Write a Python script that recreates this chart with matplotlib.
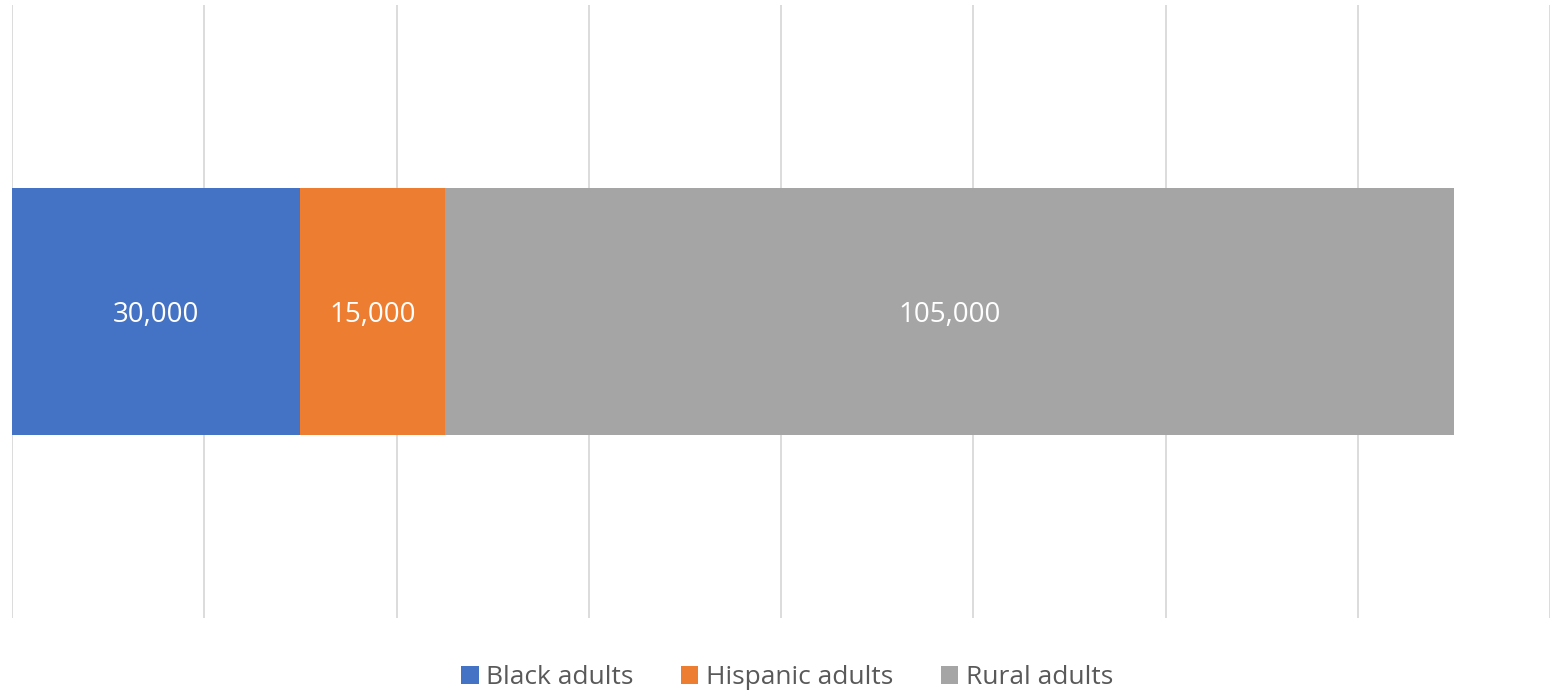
import matplotlib
matplotlib.use("Agg")
import matplotlib.pyplot as plt
from matplotlib.ticker import MultipleLocator

# Dados
series = ["Black adults", "Hispanic adults", "Rural adults"]
valores = [30000, 15000, 105000]
cores = ["#4472C4", "#ED7D31", "#A5A5A5"]

plt.rcParams["font.family"] = ["Open Sans", "DejaVu Sans"]

fig = plt.figure(figsize=(15.5, 6.9), dpi=100)
ax = fig.add_axes([12 / 1550, 1 - 618 / 690, 1538 / 1550, 613 / 690])

esquerda = 0
for nome, v, c in zip(series, valores, cores):
    ax.barh(0, v, left=esquerda, height=0.403, color=c, label=nome, zorder=3)
    ax.text(esquerda + v / 2, 0, f"{v:,}", ha="center", va="center_baseline",
            color="white", fontsize=20, zorder=4)
    esquerda += v

ax.set_xlim(0, 160000)
ax.set_ylim(-0.5, 0.5)
ax.xaxis.set_major_locator(MultipleLocator(20000))
ax.grid(axis="x", color="#D9D9D9", linewidth=1.3, zorder=0)
ax.tick_params(left=False, bottom=False, labelleft=False, labelbottom=False)
for s in ax.spines.values():
    s.set_visible(False)

fig.legend(loc="center", bbox_to_anchor=(0.508, 1 - 678 / 690), ncol=3,
           frameon=False, fontsize=19, handlelength=0.65, handleheight=0.65,
           handletextpad=0.3, columnspacing=1.8, labelcolor="#595959")

fig.savefig("out.png", dpi=100)
